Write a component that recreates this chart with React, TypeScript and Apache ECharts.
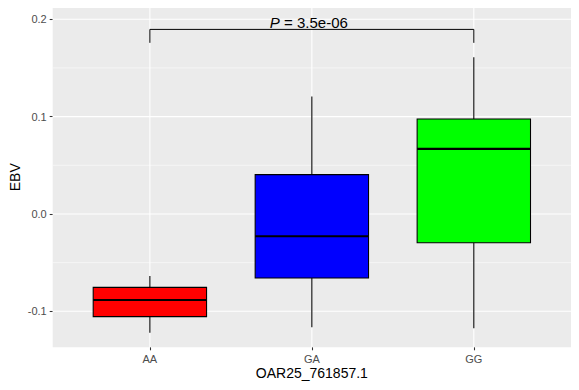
import React, { useEffect, useRef } from "react";
import * as echarts from "echarts";

const categories = ["AA", "GA", "GG"];
const lowWhisker = [-0.122, -0.1165, -0.1175];
const q1 = [-0.1055, -0.0658, -0.0295];
const median = [-0.0884, -0.0229, 0.0668];
const q3 = [-0.0754, 0.0404, 0.0976];
const highWhisker = [-0.0637, 0.1206, 0.161];
const boxColors = ["#FF0000", "#0000FF", "#00FF00"];

const yMajorTicks = [-0.1, 0.0, 0.1, 0.2];
const yMinorTicks = [-0.05, 0.05, 0.15];
const xPositions = [1, 2, 3];

const bracketFrom = 1;
const bracketTo = 3;
const bracketY = 0.1896;
const bracketTipY = 0.1758;
const pValueText = "3.5e-06";

const FONT = "'Liberation Sans', Arial, Helvetica, sans-serif";
const X_MIN = 0.4;
const X_MAX = 3.6;
const Y_MIN = -0.137;
const Y_MAX = 0.2123;

export default function App() {
  const ref = useRef<HTMLDivElement>(null);

  useEffect(() => {
    if (!ref.current) return;
    const chart = echarts.init(ref.current, null, { renderer: "svg" });

    // kind: 0 = minor horizontal, 1 = major horizontal, 2 = vertical
    const gridLines = [
      ...yMinorTicks.map((v) => [v, 0]),
      ...yMajorTicks.map((v) => [v, 1]),
      ...xPositions.map((v) => [v, 2]),
    ];
    const boxData = categories.map((_, i) => [
      xPositions[i],
      lowWhisker[i],
      q1[i],
      median[i],
      q3[i],
      highWhisker[i],
      i,
    ]);

    const option: any = {
      animation: false,
      backgroundColor: "#FFFFFF",
      grid: {
        left: 52.7,
        right: 8,
        top: 7.3,
        bottom: 42.7,
        show: true,
        backgroundColor: "#EBEBEB",
        borderWidth: 0,
        containLabel: false,
        outerBoundsMode: "none",
      },
      xAxis: {
        type: "value",
        min: X_MIN,
        max: X_MAX,
        axisLine: { show: false, onZero: false },
        splitLine: { show: false },
        axisTick: {
          show: true,
          customValues: xPositions,
          length: 3,
          lineStyle: { color: "#333333", width: 1.07 },
        },
        axisLabel: {
          show: true,
          customValues: xPositions,
          formatter: (v: number) => categories[Math.round(v) - 1] ?? "",
          color: "#4D4D4D",
          fontSize: 11,
          fontFamily: FONT,
          margin: 6,
        },
        name: "OAR25_761857.1",
        nameLocation: "middle",
        nameGap: 19,
        nameMoveOverlap: false,
        nameTextStyle: {
          color: "#000000",
          fontSize: 14,
          fontFamily: FONT,
          verticalAlign: "top",
        },
      },
      yAxis: {
        type: "value",
        min: Y_MIN,
        max: Y_MAX,
        axisLine: { show: false, onZero: false },
        splitLine: { show: false },
        axisTick: {
          show: true,
          customValues: yMajorTicks,
          length: 3,
          lineStyle: { color: "#333333", width: 1.07 },
        },
        axisLabel: {
          show: true,
          customValues: yMajorTicks,
          formatter: (v: number) => v.toFixed(1),
          color: "#4D4D4D",
          fontSize: 11,
          fontFamily: FONT,
          margin: 6,
        },
        name: "EBV",
        nameLocation: "middle",
        nameRotate: 90,
        nameGap: 31,
        nameMoveOverlap: false,
        nameTextStyle: {
          color: "#000000",
          fontSize: 14,
          fontFamily: FONT,
        },
      },
      series: [
        {
          type: "custom",
          z: 1,
          silent: true,
          clip: false,
          data: gridLines,
          renderItem: (params: any, api: any) => {
            const v = api.value(0);
            const kind = api.value(1);
            let p1: number[];
            let p2: number[];
            if (kind === 2) {
              p1 = api.coord([v, Y_MIN]);
              p2 = api.coord([v, Y_MAX]);
            } else {
              p1 = api.coord([X_MIN, v]);
              p2 = api.coord([X_MAX, v]);
            }
            return {
              type: "line",
              shape: { x1: p1[0], y1: p1[1], x2: p2[0], y2: p2[1] },
              style: { stroke: "#FFFFFF", lineWidth: kind === 0 ? 0.53 : 1.07 },
            };
          },
        },
        {
          type: "custom",
          z: 2,
          silent: true,
          data: boxData,
          renderItem: (params: any, api: any) => {
            const x = api.value(0);
            const lo = api.coord([x, api.value(1)]);
            const b1 = api.coord([x, api.value(2)]);
            const md = api.coord([x, api.value(3)]);
            const b3 = api.coord([x, api.value(4)]);
            const hi = api.coord([x, api.value(5)]);
            const color = boxColors[api.value(6)];
            const half = api.size([0.7, 0])[0] / 2;
            const cx = lo[0];
            return {
              type: "group",
              children: [
                {
                  type: "line",
                  shape: { x1: cx, y1: hi[1], x2: cx, y2: b3[1] },
                  style: { stroke: "#000000", lineWidth: 1.07 },
                },
                {
                  type: "line",
                  shape: { x1: cx, y1: b1[1], x2: cx, y2: lo[1] },
                  style: { stroke: "#000000", lineWidth: 1.07 },
                },
                {
                  type: "rect",
                  shape: {
                    x: cx - half,
                    y: b3[1],
                    width: half * 2,
                    height: b1[1] - b3[1],
                  },
                  style: { fill: color, stroke: "#000000", lineWidth: 1.07 },
                },
                {
                  type: "line",
                  shape: { x1: cx - half, y1: md[1], x2: cx + half, y2: md[1] },
                  style: { stroke: "#000000", lineWidth: 2.13 },
                },
              ],
            };
          },
        },
        {
          type: "custom",
          z: 3,
          silent: true,
          data: [[bracketFrom, bracketTo, bracketY, bracketTipY]],
          renderItem: (params: any, api: any) => {
            const a = api.value(0);
            const b = api.value(1);
            const y = api.value(2);
            const t = api.value(3);
            const pa = api.coord([a, y]);
            const pb = api.coord([b, y]);
            const ta = api.coord([a, t]);
            const tb = api.coord([b, t]);
            const mid = api.coord([(a + b) / 2, y]);
            return {
              type: "group",
              children: [
                {
                  type: "polyline",
                  shape: {
                    points: [
                      [ta[0], ta[1]],
                      [pa[0], pa[1]],
                      [pb[0], pb[1]],
                      [tb[0], tb[1]],
                    ],
                  },
                  style: { stroke: "#000000", lineWidth: 1, fill: "none" },
                },
                {
                  type: "text",
                  x: mid[0] - 3,
                  y: mid[1] - 6.5,
                  style: {
                    text: "{i|P} = " + pValueText,
                    fontSize: 15,
                    fontFamily: FONT,
                    fill: "#000000",
                    align: "center",
                    verticalAlign: "middle",
                    rich: {
                      i: {
                        fontStyle: "italic",
                        fontSize: 15,
                        fontFamily: FONT,
                        fill: "#000000",
                      },
                    },
                  },
                },
              ],
            };
          },
        },
      ],
    };

    chart.setOption(option);
    return () => chart.dispose();
  }, []);

  return <div ref={ref} style={{ width: 579, height: 390, margin: -8 }} />;
}
